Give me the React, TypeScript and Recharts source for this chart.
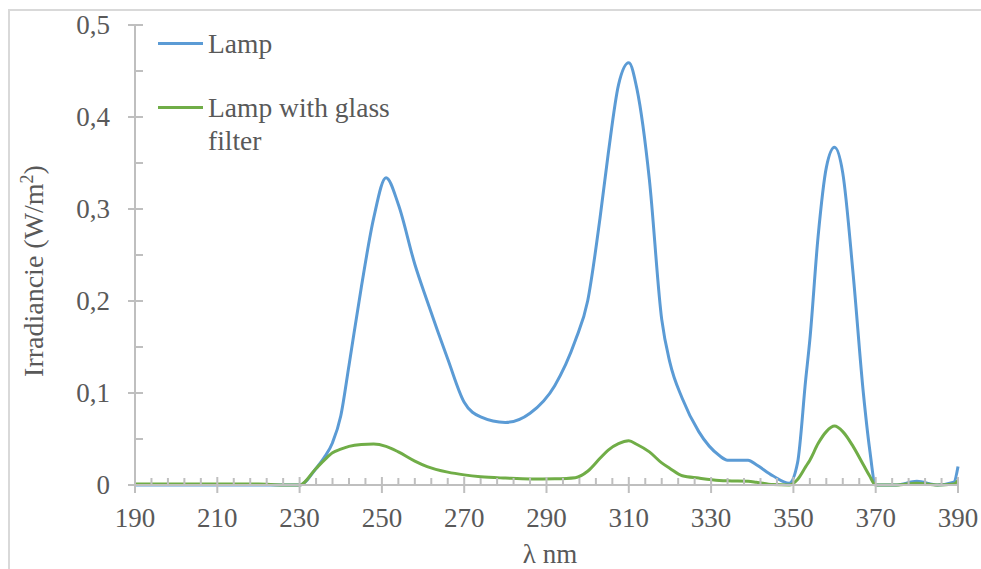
import React from 'react';
import { LineChart, Line, XAxis, YAxis, Legend } from 'recharts';

const wavelengths = [190, 200, 210, 220, 226, 230, 234, 236, 238, 240, 242, 245, 248, 251, 254, 258, 261, 266, 270, 274, 280, 286, 292, 297, 300, 303, 305, 307.5, 310, 312, 315, 318, 320, 323, 327, 332, 334, 339, 341, 345, 349, 351, 353, 354, 356, 358, 360, 362, 364.5, 367, 368.5, 370, 375, 380, 385, 389, 390];
const lampValues = [0, 0, 0, 0, 0, 0, 0.018, 0.03, 0.046, 0.075, 0.13, 0.215, 0.29, 0.334, 0.305, 0.24, 0.2, 0.137, 0.09, 0.074, 0.068, 0.078, 0.108, 0.157, 0.2, 0.29, 0.36, 0.435, 0.459, 0.43, 0.332, 0.18, 0.133, 0.094, 0.058, 0.032, 0.027, 0.027, 0.022, 0.01, 0.002, 0.024, 0.115, 0.158, 0.27, 0.345, 0.367, 0.339, 0.23, 0.1, 0.04, 0, 0, 0.004, 0, 0.003, 0.02];
const glassValues = [0.001, 0.001, 0.001, 0.001, 0, 0, 0.018, 0.027, 0.035, 0.039, 0.042, 0.044, 0.0445, 0.042, 0.036, 0.026, 0.02, 0.014, 0.011, 0.009, 0.0075, 0.0065, 0.0068, 0.008, 0.015, 0.029, 0.038, 0.045, 0.048, 0.044, 0.036, 0.024, 0.018, 0.01, 0.0075, 0.005, 0.0045, 0.004, 0.003, 0.0005, 0, 0.006, 0.02, 0.027, 0.045, 0.058, 0.064, 0.058, 0.042, 0.022, 0.01, 0, 0, 0.002, 0, 0.001, 0.005];

const xTicks = [190, 194, 198, 202, 206, 210, 214, 218, 222, 226, 230, 234, 238, 242, 246, 250, 254, 258, 262, 266, 270, 274, 278, 282, 286, 290, 294, 298, 302, 306, 310, 314, 318, 322, 326, 330, 334, 338, 342, 346, 350, 354, 358, 362, 366, 370, 374, 378, 382, 386, 390];
const yTicks = [0, 0.05, 0.1, 0.15, 0.2, 0.25, 0.3, 0.35, 0.4, 0.45, 0.5];
const yMajorLabels: Record<string, string> = { '0': '0', '0.1': '0,1', '0.2': '0,2', '0.3': '0,3', '0.4': '0,4', '0.5': '0,5' };

const seriesNames = ['Lamp', 'Lamp with glass filter'];

const data = wavelengths.map((nm, i) => ({ nm, lamp: lampValues[i], glass: glassValues[i] }));

const FONT = '"Liberation Serif", "Times New Roman", serif';
const TEXT = '#595959';
const AXIS = '#bfbfbf';

const XTick = (props: any) => {
  const { x, y, payload } = props;
  const v = payload.value;
  const major = Math.round(v - 190) % 20 === 0;
  return (
    <g>
      {major ? (
        <line x1={x} x2={x} y1={y - 8} y2={y + 8} stroke={AXIS} strokeWidth={2} />
      ) : (
        <line x1={x} x2={x} y1={y - 7} y2={y} stroke={AXIS} strokeWidth={2} />
      )}
      {major && (
        <text x={x} y={y + 42} textAnchor="middle" fill={TEXT} fontSize={27} fontFamily={FONT}>
          {v}
        </text>
      )}
    </g>
  );
};

const YTick = (props: any) => {
  const { x, y, payload } = props;
  const v = payload.value;
  const key = String(Math.round(v * 100) / 100);
  const label = yMajorLabels[key];
  const major = label !== undefined;
  return (
    <g>
      {major ? (
        <line x1={x - 7} x2={x + 8} y1={y} y2={y} stroke={AXIS} strokeWidth={2} />
      ) : (
        <line x1={x} x2={x + 8} y1={y} y2={y} stroke={AXIS} strokeWidth={2} />
      )}
      {major && (
        <text x={x - 25} y={y + 9} textAnchor="end" fill={TEXT} fontSize={27} fontFamily={FONT}>
          {label}
        </text>
      )}
    </g>
  );
};

const LegendContent = (props: any) => {
  const payload = props.payload || [];
  return (
    <div style={{ fontFamily: FONT, fontSize: 27.5, color: TEXT, lineHeight: '33px', textAlign: 'left' }}>
      {payload.map((p: any, i: number) => (
        <div key={i} style={{ display: 'flex', alignItems: 'flex-start', marginBottom: i === 0 ? 31 : 0 }}>
          <svg width={50} height={33} style={{ flex: 'none' }}>
            <line x1={0} x2={45} y1={16.5} y2={16.5} stroke={p.color} strokeWidth={3} />
          </svg>
          <span style={{ maxWidth: 200 }}>{p.value}</span>
        </div>
      ))}
    </div>
  );
};

export default function App() {
  return (
    <div style={{ position: 'absolute', left: 0, top: 0, width: 981, height: 569, overflow: 'hidden', background: '#fff' }}>
      <div style={{ position: 'absolute', left: 8, top: 9, width: 1000, height: 600, border: '2px solid #d9d9d9', boxSizing: 'border-box' }} />
      <div style={{ position: 'absolute', left: 0, top: 0 }}>
        <LineChart width={981} height={569} data={data} margin={{ top: 25, right: 23, bottom: 83, left: 134 }}>
          <XAxis
            dataKey="nm"
            type="number"
            domain={[190, 390]}
            ticks={xTicks}
            interval={0}
            tickSize={0}
            tickMargin={0}
            tickLine={false}
            height={1}
            axisLine={{ stroke: AXIS, strokeWidth: 2 }}
            tick={<XTick />}
          />
          <YAxis
            type="number"
            domain={[0, 0.5]}
            ticks={yTicks}
            interval={0}
            tickSize={0}
            tickMargin={0}
            tickLine={false}
            width={1}
            axisLine={{ stroke: AXIS, strokeWidth: 2 }}
            tick={<YTick />}
          />
          <Legend
            layout="vertical"
            align="center"
            verticalAlign="middle"
            content={<LegendContent />}
            wrapperStyle={{ position: 'absolute', left: 158, top: 26.5, width: 280 }}
          />
          <Line type="monotone" dataKey="lamp" name={seriesNames[0]} stroke="#5B9BD5" strokeWidth={3} dot={false} activeDot={false} isAnimationActive={false} />
          <Line type="monotone" dataKey="glass" name={seriesNames[1]} stroke="#70AD47" strokeWidth={3} dot={false} activeDot={false} isAnimationActive={false} />
          <text x={550} y={563} textAnchor="middle" fill={TEXT} fontSize={27} fontFamily={FONT}>λ nm</text>
          <text x={43} y={271} textAnchor="middle" fill={TEXT} fontSize={28} fontFamily={FONT} transform="rotate(-90 43 271)">
            Irradiancie (W/m<tspan dy={-10} fontSize={18}>2</tspan><tspan dy={10}>)</tspan>
          </text>
        </LineChart>
      </div>
    </div>
  );
}
